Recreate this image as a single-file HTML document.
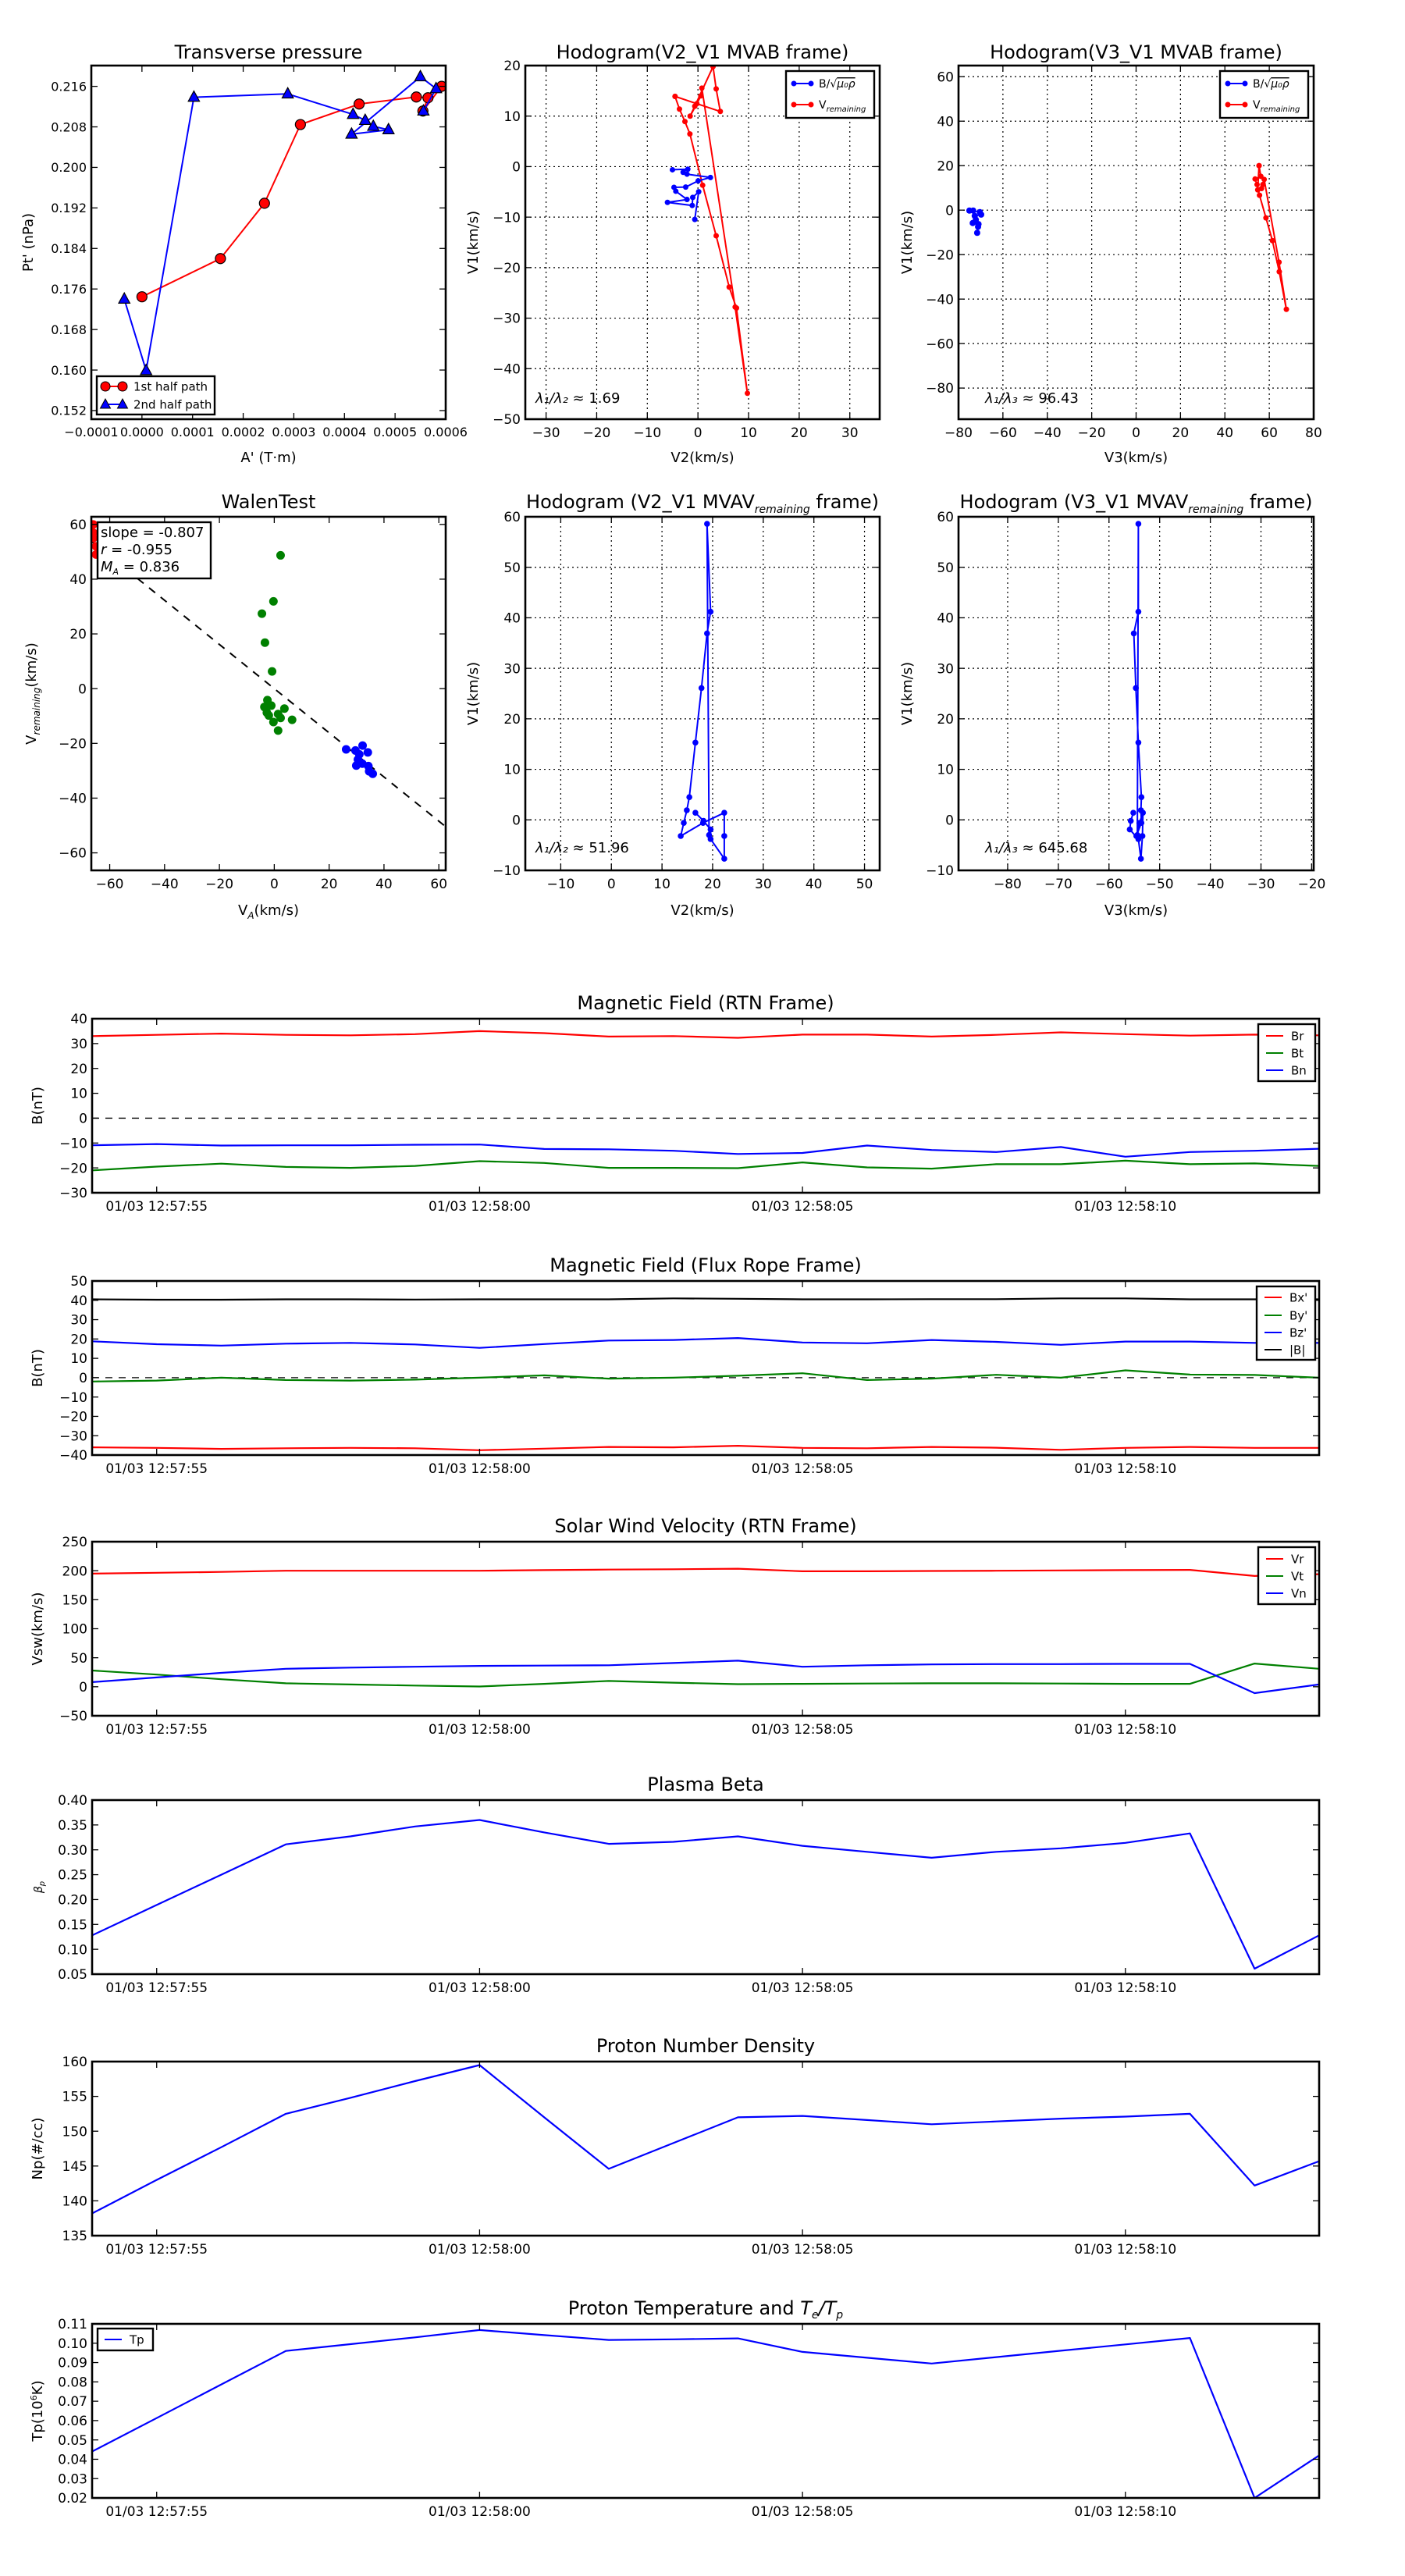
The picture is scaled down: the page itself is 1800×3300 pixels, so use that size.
<!DOCTYPE html>
<html><head><meta charset="utf-8">
<style>
html,body{margin:0;padding:0;background:#fff;}
svg{display:block;font-family:"DejaVu Sans","Liberation Sans",sans-serif;}
</style></head>
<body>
<svg id="fig" width="1800" height="3300" viewBox="0 0 1800 3300" xmlns="http://www.w3.org/2000/svg"></svg>
<script>
// ---------- DATA ----------
// Transverse pressure
const ptRedA = [0.0000,0.000155,0.000242,0.000313,0.000429,0.000542,0.000565,0.000555,0.000592];
const ptRedP = [0.17446,0.18200,0.19292,0.20846,0.21251,0.21390,0.21374,0.21113,0.21600];
const ptBlueA = [-0.0000349,0.0000082,0.0001026,0.000288,0.000417,0.000441,0.000457,0.000487,0.000414,0.000550,0.000581,0.000556];
const ptBlueP = [0.17400,0.15990,0.21385,0.21451,0.21046,0.20928,0.20810,0.20744,0.20656,0.21790,0.21554,0.21113];
// Hodogram V2-V1 MVAB
const h1BV2 = [-5.04,-2.0,-2.93,-2.16,2.47,0.05,-2.42,-4.73,-4.37,-2.16,-6.02,-1.13,-1.03,0.15,-0.62];
const h1BV1 = [-0.62,-0.51,-1.13,-1.49,-2.15,-2.82,-4.05,-4.10,-4.87,-6.51,-7.08,-7.69,-6.10,-4.97,-10.46];
const h1RV2 = [-4.52,-3.65,-2.57,-1.59,0.93,3.60,6.17,7.61,9.77,7.35,0.77,0.57,-0.21,-1.54,-0.62,2.98,3.6,4.42,-4.52];
const h1RV1 = [13.9,11.38,8.92,6.46,-3.69,-13.69,-23.85,-28.0,-44.87,-27.8,15.54,14.0,12.46,10.0,11.95,19.79,15.38,10.92,13.9];
// Hodogram V3-V1 MVAB
const h2BV3 = [-75.1,-73.4,-70.4,-69.8,-72.7,-72.2,-73.6,-71.0,-71.2,-71.6];
const h2BV1 = [-0.2,-0.2,-0.9,-2.0,-2.6,-4.3,-5.8,-6.3,-7.5,-10.2];
const h2RV3 = [55.4,56.2,53.6,54.5,55.6,58.5,61.4,64.5,67.7,64.4,57.7,57.1,56.5,54.8,55.4];
const h2RV1 = [20.0,15.2,14.0,11.5,6.7,-3.5,-13.7,-27.7,-44.6,-23.4,13.8,11.5,9.7,9.1,20.0];
// Walen test
const wRedX = [-66,-66,-65,-65,-66];
const wRedY = [60,55,52,49,57];
const wGreenX = [2.3,-0.3,-4.5,-3.4,-0.8,-2.5,-3.6,-1.1,3.7,-2.7,-2.0,1.4,2.3,-0.3,6.5,1.4];
const wGreenY = [48.7,31.9,27.4,16.8,6.3,-4.2,-6.7,-6.2,-7.3,-8.8,-9.8,-9.3,-10.7,-12.2,-11.4,-15.3];
const wBlueX = [26.2,29.6,32.2,34.1,31.0,30.5,29.9,32.1,34.3,34.6,35.9];
const wBlueY = [-22.2,-22.6,-20.8,-23.3,-24.0,-25.9,-28.1,-27.4,-28.3,-30.2,-31.1];
const walenSlope = -0.807;
// Hodogram MVAV remaining
const h3V1 = [1.4,-0.2,-1.9,-3.8,-7.7,-3.2,1.4,-0.6,-3.2,-0.6,1.9,4.5,15.3,26.1,36.9,41.2,58.6,-3.0];
const h3V2 = [16.6,18.2,19.6,19.6,22.3,22.3,22.3,18.1,13.7,14.3,14.9,15.4,16.6,17.8,18.9,19.6,18.9,19.3];
const h4V3 = [-55.2,-55.7,-55.9,-54.2,-53.7,-53.4,-53.3,-54.0,-54.6,-53.6,-53.7,-53.6,-54.2,-54.7,-55.1,-54.2,-54.2,-54.4];
// Time series (20 samples, 1 s apart)
const timeTickIdx = [1,6,11,16];
const timeTickLabels = ['01/03 12:57:55','01/03 12:58:00','01/03 12:58:05','01/03 12:58:10'];
const Br = [33,33.5,34,33.5,33.3,33.8,35,34.2,32.8,33,32.3,33.6,33.6,32.8,33.5,34.5,33.8,33.2,33.6,33.3];
const Bt = [-21,-19.5,-18.3,-19.6,-20,-19.2,-17.3,-18,-20,-20,-20.1,-17.8,-19.8,-20.3,-18.5,-18.5,-17.1,-18.5,-18.2,-19.2];
const Bn = [-10.9,-10.4,-11,-10.9,-10.9,-10.7,-10.6,-12.4,-12.5,-13.1,-14.4,-14,-11,-12.8,-13.6,-11.6,-15.5,-13.6,-13.1,-12.3];
const Bxp = [-36,-36.3,-36.8,-36.5,-36.3,-36.5,-37.5,-36.7,-35.8,-36,-35.2,-36.3,-36.5,-35.8,-36.2,-37.3,-36.3,-35.8,-36.3,-36.3];
const Byp = [-2,-1.5,0,-1.2,-1.5,-1,0,1.2,-0.5,0,1,2.3,-1.2,-0.5,1.5,0,3.8,1.6,1.4,0];
const Bzp = [18.8,17.3,16.6,17.6,18,17.2,15.4,17.4,19.2,19.5,20.5,18.2,17.8,19.5,18.5,17,18.7,18.7,18,18];
const Bmag = [40.5,40.3,40.3,40.5,40.5,40.4,40.5,40.5,40.5,41,40.8,40.5,40.5,40.6,40.6,41,41,40.5,40.5,40.5];
const Vr = [195,196.5,198,200,200,200,200,201,202,202.5,203.5,199,199,199.5,200,200.5,201,201.5,191,194];
const Vt = [28,21,13,6,4,2,0.5,5,10,7,4.5,5,5.5,6,6,5.5,5,5,40,31];
const Vn = [8,16,24,31,33,34.5,36,36.5,37,41,45,34.5,37,38.5,39,39,39.5,39.5,-11,4];
const betaP = [0.128,0.189,0.25,0.311,0.327,0.347,0.360,0.335,0.312,0.316,0.327,0.308,0.296,0.284,0.296,0.303,0.314,0.333,0.061,0.128];
const Np = [138.2,143,147.7,152.5,154.8,157.2,159.5,152,144.6,148.3,152.0,152.2,151.6,151.0,151.4,151.8,152.1,152.5,142.2,145.7];
const Tp = [0.044,0.0613,0.0787,0.096,0.0995,0.103,0.1068,0.1042,0.1017,0.102,0.1025,0.0955,0.0925,0.0895,0.0928,0.0961,0.0994,0.1027,0.020,0.042];

// ---------- HELPERS ----------
const NS='http://www.w3.org/2000/svg';
const fig=document.getElementById('fig');
function mk(tag,attrs,parent){const e=document.createElementNS(NS,tag);for(const k in attrs)e.setAttribute(k,attrs[k]);(parent||fig).appendChild(e);return e;}
function fmtNum(v,dec){let s=Math.abs(v).toFixed(dec);return (v<-1e-12?'\u2212':'')+s;}
function range(a,b,s){const r=[];for(let v=a;v<=b+s*1e-6;v+=s)r.push(+v.toFixed(10));return r;}

function makeAxes(name,L,T,R,B,xlim,ylim,opt){
  const g=mk('g',{});
  
  
  const sx=v=>L+(v-xlim[0])/(xlim[1]-xlim[0])*(R-L);
  const sy=v=>B-(v-ylim[0])/(ylim[1]-ylim[0])*(B-T);
  const clipId='clip-'+name;
  const cp=mk('clipPath',{id:clipId},g);
  mk('rect',{x:L,y:T,width:R-L,height:B-T},cp);
  // grid
  if(opt.grid){
    opt.xticks.forEach(v=>{const x=sx(v);if(x>L+1&&x<R-1){const l=mk('line',{x1:x,y1:T,x2:x,y2:B,stroke:'#000','stroke-width':1.2,'stroke-dasharray':'2,4'},g);}});
    opt.yticks.forEach(v=>{const y=sy(v);if(y>T+1&&y<B-1){const l=mk('line',{x1:L,y1:y,x2:R,y2:y,stroke:'#000','stroke-width':1.2,'stroke-dasharray':'2,4'},g);}});
  }
  const plot=mk('g',{'clip-path':'url(#'+clipId+')'},g);
  
  
  // ticks & labels
  const fs=opt.fs||17;
  opt.xticks.forEach((v,i)=>{const x=sx(v);
    mk('line',{x1:x,y1:B,x2:x,y2:B-8,stroke:'#000','stroke-width':1.3},g);
    mk('line',{x1:x,y1:T,x2:x,y2:T+8,stroke:'#000','stroke-width':1.3},g);
    const t=mk('text',{x:x,y:B+fs+6,'font-size':fs,'text-anchor':'middle',fill:'#000'},g);
    t.textContent=opt.xlabels?opt.xlabels[i]:fmtNum(v,opt.xdec||0);
    
    
  });
  opt.yticks.forEach((v,i)=>{const y=sy(v);
    mk('line',{x1:L,y1:y,x2:L+8,y2:y,stroke:'#000','stroke-width':1.3},g);
    mk('line',{x1:R,y1:y,x2:R-8,y2:y,stroke:'#000','stroke-width':1.3},g);
    const t=mk('text',{x:L-6,y:y+fs*0.36,'font-size':fs,'text-anchor':'end',fill:'#000'},g);
    t.textContent=opt.ylabels?opt.ylabels[i]:fmtNum(v,opt.ydec||0);
    
    
  });
  const fr=mk('rect',{x:L,y:T,width:R-L,height:B-T,fill:'none',stroke:'#000','stroke-width':2.6},g);
  
  
  // title
  const tt=mk('text',{x:(L+R)/2,y:opt.titleY,'font-size':24,'text-anchor':'middle',fill:'#000'},g);
  tt.innerHTML=opt.title;
  
  
  if(opt.xlabel){const xl=mk('text',{x:(L+R)/2,y:opt.xlabelY,'font-size':18,'text-anchor':'middle',fill:'#000'},g);xl.innerHTML=opt.xlabel;
    
    }
  if(opt.ylabel){const yx=opt.ylabelX,yy=(T+B)/2;const yl=mk('text',{x:yx,y:yy,'font-size':18,'text-anchor':'middle',fill:'#000',transform:'rotate(-90 '+yx+' '+yy+')'},g);yl.innerHTML=opt.ylabel;
    
    }
  return {g,plot,sx,sy,L,T,R,B};
}
function polyline(ax,xs,ys,color,w,name){
  const pts=xs.map((x,i)=>ax.sx(x).toFixed(1)+','+ax.sy(ys[i]).toFixed(1)).join(' ');
  const p=mk('polyline',{points:pts,fill:'none',stroke:color,'stroke-width':w,'stroke-linejoin':'round'},ax.plot);
  
  
  return p;
}
function dots(ax,xs,ys,color,r,edge,name){
  xs.forEach((x,i)=>{const c=mk('circle',{cx:ax.sx(x),cy:ax.sy(ys[i]),r:r,fill:color,stroke:edge||color,'stroke-width':edge?1.2:0},ax.plot);
    
    });
}
function tris(ax,xs,ys,color,s,name){
  xs.forEach((x,i)=>{const cx=ax.sx(x),cy=ax.sy(ys[i]);
    const p=mk('polygon',{points:`${cx},${cy-s} ${cx-s*0.9},${cy+s*0.65} ${cx+s*0.9},${cy+s*0.65}`,fill:color,stroke:'#000','stroke-width':1.2},ax.plot);
    
    });
}
function legendBox(x,y,w,h,name){const r=mk('rect',{x:x,y:y,width:w,height:h,fill:'#fff',stroke:'#000','stroke-width':2.4});
  
  }
function legendEntry(x,y,color,label,fs,marker,name){
  const g=mk('g',{});
  
  
  mk('line',{x1:x,y1:y,x2:x+22,y2:y,stroke:color,'stroke-width':2},g);
  if(marker==='dot'){mk('circle',{cx:x,cy:y,r:3.5,fill:color},g);mk('circle',{cx:x+22,cy:y,r:3.5,fill:color},g);}
  if(marker==='bigdot'){mk('circle',{cx:x,cy:y,r:6,fill:color,stroke:'#000'},g);mk('circle',{cx:x+22,cy:y,r:6,fill:color,stroke:'#000'},g);}
  if(marker==='tri'){[x,x+22].forEach(cx=>mk('polygon',{points:`${cx},${y-7} ${cx-6.5},${y+5} ${cx+6.5},${y+5}`,fill:color,stroke:'#000'},g));}
  const t=mk('text',{x:x+(marker==='bigdot'||marker==='tri'?36:32),y:y+fs*0.36,'font-size':fs,fill:'#000'},g);
  t.innerHTML=label;
}

// ---------- ROW 1 ----------
const a1=makeAxes('transverse-pressure-chart',117,84,571,537,[-0.0001,0.0006],[0.1503,0.2201],{
  xticks:range(-0.0001,0.0006,0.0001),xdec:4,yticks:range(0.152,0.216,0.008),ydec:3,fs:16,
  title:'Transverse pressure',titleY:75,xlabel:"A' (T\u00b7m)",xlabelY:592,ylabel:"Pt' (nPa)",ylabelX:42});
polyline(a1,ptRedA,ptRedP,'#ff0000',2,'first-half-path-line');
dots(a1,ptRedA,ptRedP,'#ff0000',6.5,'#000','first-half-point');
polyline(a1,ptBlueA,ptBlueP,'#0000ff',2,'second-half-path-line');
tris(a1,ptBlueA,ptBlueP,'#0000ff',8,'second-half-point');
legendBox(124,482,151,49,'pressure-legend');
legendEntry(135,495,'#ff0000','1st half path',15,'bigdot','legend-entry-1st-half');
legendEntry(135,518,'#0000ff','2nd half path',15,'tri','legend-entry-2nd-half');

const BLEG='B/\u221a<tspan text-decoration="overline" font-style="italic">\u03bc\u2080\u03c1</tspan>';
const VLEG='V<tspan font-size="10" dy="4" font-style="italic">remaining</tspan>';

const a2=makeAxes('hodogram-v2-v1-mvab',673,84,1127,537,[-34.1,35.9],[-50,20],{
  grid:true,xticks:range(-30,30,10),yticks:range(-50,20,10),
  title:'Hodogram(V2_V1 MVAB frame)',titleY:75,xlabel:'V2(km/s)',xlabelY:592,ylabel:'V1(km/s)',ylabelX:612});
polyline(a2,h1RV2,h1RV1,'#ff0000',2,'v-remaining-line');
dots(a2,h1RV2,h1RV1,'#ff0000',3.5,null,'v-remaining-point');
polyline(a2,h1BV2,h1BV1,'#0000ff',2,'b-alfven-line');
dots(a2,h1BV2,h1BV1,'#0000ff',3.5,null,'b-alfven-point');
legendBox(1007,91,113,60,'hodogram1-legend');
legendEntry(1017,107,'#0000ff',BLEG,14,'dot','legend-entry-b');
legendEntry(1017,134,'#ff0000',VLEG,14,'dot','legend-entry-v');
{const t=mk('text',{x:686,y:516,'font-size':18,fill:'#000'});t.innerHTML='<tspan font-style="italic">\u03bb\u2081/\u03bb\u2082</tspan> \u2248 1.69';
 
 }

const a3=makeAxes('hodogram-v3-v1-mvab',1228,84,1683,537,[-80,80],[-94,65],{
  grid:true,xticks:range(-80,80,20),yticks:range(-80,60,20),
  title:'Hodogram(V3_V1 MVAB frame)',titleY:75,xlabel:'V3(km/s)',xlabelY:592,ylabel:'V1(km/s)',ylabelX:1168});
polyline(a3,h2RV3,h2RV1,'#ff0000',2,'v-remaining-line');
dots(a3,h2RV3,h2RV1,'#ff0000',3.5,null,'v-remaining-point');
polyline(a3,h2BV3,h2BV1,'#0000ff',2,'b-alfven-line');
dots(a3,h2BV3,h2BV1,'#0000ff',4,null,'b-alfven-point');
legendBox(1563,91,113,60,'hodogram2-legend');
legendEntry(1573,107,'#0000ff',BLEG,14,'dot','legend-entry-b');
legendEntry(1573,134,'#ff0000',VLEG,14,'dot','legend-entry-v');
{const t=mk('text',{x:1262,y:516,'font-size':18,fill:'#000'});t.innerHTML='<tspan font-style="italic">\u03bb\u2081/\u03bb\u2083</tspan> \u2248 96.43';
 
 }

// ---------- ROW 2 ----------
const a4=makeAxes('walen-test-chart',117,662,571,1115,[-66.7,62.5],[-66.4,62.8],{
  xticks:range(-60,60,20),yticks:range(-60,60,20),
  title:'WalenTest',titleY:651,xlabel:'V<tspan font-size="12" dy="5" font-style="italic">A</tspan><tspan dy="-5">(km/s)</tspan>',xlabelY:1172,
  ylabel:'V<tspan font-size="12" dy="5" font-style="italic">remaining</tspan><tspan dy="-5">(km/s)</tspan>',ylabelX:46});
{const xs=[-66.7,62.5];const l=mk('line',{x1:a4.sx(xs[0]),y1:a4.sy(walenSlope*xs[0]),x2:a4.sx(xs[1]),y2:a4.sy(walenSlope*xs[1]),stroke:'#000','stroke-width':2,'stroke-dasharray':'10,9'},a4.plot);
 
 }
dots(a4,wRedX,wRedY,'#ff0000',5.5,null,'walen-red-point');
dots(a4,wGreenX,wGreenY,'#008000',5.5,null,'walen-green-point');
dots(a4,wBlueX,wBlueY,'#0000ff',5.5,null,'walen-blue-point');
legendBox(125,669,145,72,'walen-stats-box');
{const lines=['slope = -0.807','<tspan font-style="italic">r</tspan> = -0.955','<tspan font-style="italic">M<tspan font-size="11" dy="4">A</tspan></tspan><tspan dy="-4"> = 0.836</tspan>'];
 lines.forEach((s,i)=>{const t=mk('text',{x:129,y:688+i*22,'font-size':18,fill:'#000'});t.innerHTML=s;
  
  });}

const a5=makeAxes('hodogram-v2-v1-mvav',673,662,1127,1115,[-17,53],[-10,60],{
  grid:true,xticks:range(-10,50,10),yticks:range(-10,60,10),
  title:'Hodogram (V2_V1 MVAV<tspan font-size="14" dy="6" font-style="italic">remaining</tspan><tspan dy="-6"> frame)</tspan>',titleY:651,xlabel:'V2(km/s)',xlabelY:1172,ylabel:'V1(km/s)',ylabelX:612});
polyline(a5,h3V2,h3V1,'#0000ff',2,'hodogram-line');
dots(a5,h3V2,h3V1,'#0000ff',3.8,null,'hodogram-point');
{const t=mk('text',{x:686,y:1092,'font-size':18,fill:'#000'});t.innerHTML='<tspan font-style="italic">\u03bb\u2081/\u03bb\u2082</tspan> \u2248 51.96';
 
 }

const a6=makeAxes('hodogram-v3-v1-mvav',1228,662,1683,1115,[-89.7,-19.6],[-10,60],{
  grid:true,xticks:range(-80,-20,10),yticks:range(-10,60,10),
  title:'Hodogram (V3_V1 MVAV<tspan font-size="14" dy="6" font-style="italic">remaining</tspan><tspan dy="-6"> frame)</tspan>',titleY:651,xlabel:'V3(km/s)',xlabelY:1172,ylabel:'V1(km/s)',ylabelX:1168});
polyline(a6,h4V3,h3V1,'#0000ff',2,'hodogram-line');
dots(a6,h4V3,h3V1,'#0000ff',3.8,null,'hodogram-point');
{const t=mk('text',{x:1262,y:1092,'font-size':18,fill:'#000'});t.innerHTML='<tspan font-style="italic">\u03bb\u2081/\u03bb\u2083</tspan> \u2248 645.68';
 
 }

// ---------- TIME SERIES ----------
const N=Br.length;
const idx=Br.map((_,i)=>i);
function tsAxes(name,top,ylim,ystep,ydec,title,ylabel){
  return makeAxes(name,118,top,1690,top+223,[0,N-1],ylim,{
    xticks:timeTickIdx,xlabels:timeTickLabels,yticks:range(ylim[0],ylim[1],ystep),ydec:ydec,fs:17,
    title:title,titleY:top-12,ylabel:ylabel,ylabelX:54});
}
function zeroLine(ax){const l=mk('line',{x1:ax.L,y1:ax.sy(0),x2:ax.R,y2:ax.sy(0),stroke:'#000','stroke-width':1.3,'stroke-dasharray':'9,8'},ax.plot);
  
  }

const t1=tsAxes('magnetic-field-rtn-chart',1305,[-30,40],10,0,'Magnetic Field (RTN Frame)','B(nT)');
zeroLine(t1);
polyline(t1,idx,Br,'#ff0000',2.2,'br-line');
polyline(t1,idx,Bt,'#008000',2.2,'bt-line');
polyline(t1,idx,Bn,'#0000ff',2.2,'bn-line');
legendBox(1612,1312,73,73,'rtn-legend');
legendEntry(1622,1327,'#ff0000','Br',15,'','legend-entry-br');
legendEntry(1622,1349,'#008000','Bt',15,'','legend-entry-bt');
legendEntry(1622,1371,'#0000ff','Bn',15,'','legend-entry-bn');

const t2=tsAxes('magnetic-field-flux-rope-chart',1641,[-40,50],10,0,'Magnetic Field (Flux Rope Frame)','B(nT)');
zeroLine(t2);
polyline(t2,idx,Bxp,'#ff0000',2.2,'bx-prime-line');
polyline(t2,idx,Byp,'#008000',2.2,'by-prime-line');
polyline(t2,idx,Bzp,'#0000ff',2.2,'bz-prime-line');
polyline(t2,idx,Bmag,'#000000',2.2,'b-magnitude-line');
legendBox(1610,1648,75,94,'flux-rope-legend');
legendEntry(1620,1662,'#ff0000',"Bx'",15,'','legend-entry-bx');
legendEntry(1620,1685,'#008000',"By'",15,'','legend-entry-by');
legendEntry(1620,1707,'#0000ff',"Bz'",15,'','legend-entry-bz');
legendEntry(1620,1729,'#000000','|B|',15,'','legend-entry-bmag');

const t3=tsAxes('solar-wind-velocity-chart',1975,[-50,250],50,0,'Solar Wind Velocity (RTN Frame)','Vsw(km/s)');
polyline(t3,idx,Vr,'#ff0000',2.2,'vr-line');
polyline(t3,idx,Vt,'#008000',2.2,'vt-line');
polyline(t3,idx,Vn,'#0000ff',2.2,'vn-line');
legendBox(1612,1982,73,73,'velocity-legend');
legendEntry(1622,1997,'#ff0000','Vr',15,'','legend-entry-vr');
legendEntry(1622,2019,'#008000','Vt',15,'','legend-entry-vt');
legendEntry(1622,2041,'#0000ff','Vn',15,'','legend-entry-vn');

const t4=tsAxes('plasma-beta-chart',2306,[0.05,0.40],0.05,2,'Plasma Beta','<tspan font-style="italic" font-size="14">\u03b2<tspan font-size="10" dy="3">p</tspan></tspan>');
polyline(t4,idx,betaP,'#0000ff',2.2,'beta-line');

const t5=tsAxes('proton-density-chart',2641,[135,160],5,0,'Proton Number Density','Np(#/cc)');
polyline(t5,idx,Np,'#0000ff',2.2,'np-line');

const t6=tsAxes('proton-temperature-chart',2977,[0.02,0.11],0.01,2,'Proton Temperature and <tspan font-style="italic">T<tspan font-size="14" dy="5">e</tspan><tspan dy="-5">/T</tspan><tspan font-size="14" dy="5">p</tspan></tspan>','Tp(10<tspan font-size="11" dy="-7">6</tspan><tspan dy="7">K)</tspan>');
polyline(t6,idx,Tp,'#0000ff',2.2,'tp-line');
legendBox(125,2983,71,28,'tp-legend');
legendEntry(134,2997,'#0000ff','Tp',15,'','legend-entry-tp');
</script>
</body></html>
